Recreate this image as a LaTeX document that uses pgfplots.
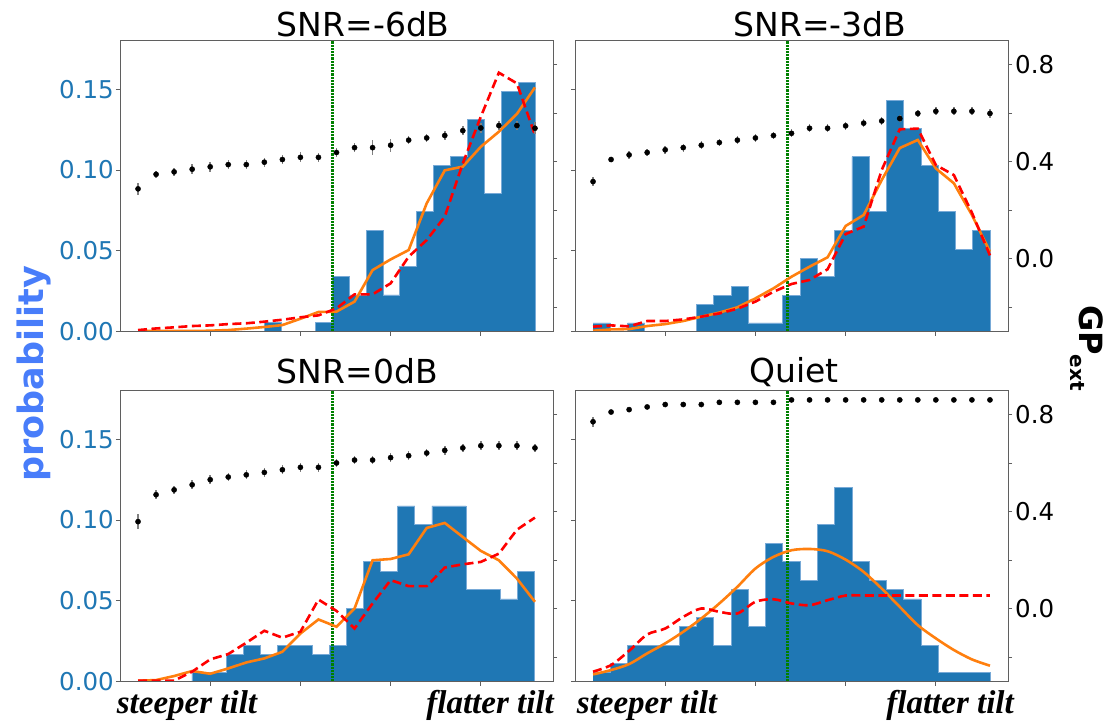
\documentclass[border=0pt]{standalone}
\usepackage{fontspec}
\setmainfont{DejaVu Sans}
\newfontfamily\tiltfont{Liberation Serif}
\usepackage{pgfplots}
\usepackage{pgfplotstable}
\pgfplotsset{compat=1.18}

\definecolor{barblue}{RGB}{31,119,180}
\definecolor{baredge}{RGB}{120,170,215}
\definecolor{lineorange}{RGB}{255,127,14}
\definecolor{refgreen}{RGB}{0,128,0}
\definecolor{problabel}{RGB}{72,125,250}
\definecolor{spine}{RGB}{95,95,95}

% x o(range) r(ed) g(p) e(rror)
\pgfplotstableread{
x o r g e
1 0.0004 0.0010 0.289 0.024
2 0.0004 0.0020 0.349 0.014
3 0.0004 0.0027 0.359 0.016
4 0.0004 0.0035 0.370 0.020
5 0.0006 0.0039 0.380 0.020
6 0.0010 0.0047 0.389 0.018
7 0.0019 0.0052 0.389 0.018
8 0.0029 0.0062 0.399 0.018
9 0.0041 0.0074 0.410 0.020
10 0.0080 0.0089 0.419 0.020
11 0.0122 0.0101 0.419 0.018
12 0.0124 0.0144 0.439 0.020
13 0.0186 0.0231 0.459 0.020
14 0.0381 0.0231 0.459 0.030
15 0.0447 0.0299 0.469 0.026
16 0.0505 0.0464 0.490 0.018
17 0.0794 0.0567 0.499 0.018
18 0.0998 0.0711 0.509 0.018
19 0.1021 0.1041 0.529 0.018
20 0.1144 0.1330 0.540 0.020
21 0.1237 0.1602 0.550 0.020
22 0.1347 0.1536 0.550 0.018
23 0.1511 0.1217 0.539 0.024
}\tlpts
\pgfplotstableread{
edge h
1.470 0
2.406 0
3.342 0
4.278 0
5.214 0
6.150 0
7.086 0
8.022 0.0056
8.958 0
9.894 0
10.830 0.0056
11.766 0.0344
12.702 0.0227
13.638 0.0629
14.574 0.0227
15.510 0.0402
16.446 0.0742
17.382 0.1027
18.318 0.1085
19.254 0.1313
20.190 0.0856
21.126 0.1487
22.062 0.1542
23.000 0
}\tlbars

\pgfplotstableread{
x o r g e
1 0.0006 0.0031 0.319 0.020
2 0.0014 0.0039 0.410 0.012
3 0.0016 0.0033 0.429 0.016
4 0.0035 0.0066 0.439 0.016
5 0.0047 0.0066 0.450 0.016
6 0.0066 0.0076 0.459 0.016
7 0.0093 0.0093 0.469 0.016
8 0.0118 0.0113 0.480 0.016
9 0.0151 0.0142 0.490 0.016
10 0.0206 0.0186 0.499 0.016
11 0.0268 0.0247 0.509 0.016
12 0.0340 0.0295 0.518 0.016
13 0.0402 0.0320 0.539 0.016
14 0.0460 0.0386 0.539 0.016
15 0.0654 0.0604 0.549 0.016
16 0.0722 0.0650 0.560 0.016
17 0.0938 0.1000 0.569 0.016
18 0.1136 0.1252 0.579 0.016
19 0.1186 0.1256 0.600 0.016
20 0.1010 0.1031 0.609 0.016
21 0.0918 0.0969 0.609 0.016
22 0.0722 0.0736 0.609 0.016
23 0.0495 0.0472 0.600 0.018
}\trpts
\pgfplotstableread{
edge h
1.000 0.0054
1.957 0
2.913 0.0054
3.870 0
4.826 0
5.783 0
6.739 0.0169
7.696 0.0225
8.652 0.0282
9.609 0.0054
10.565 0.0054
11.522 0.0225
12.478 0.0454
13.435 0.0340
14.391 0.0627
15.348 0.1083
16.304 0.0742
17.261 0.1429
18.217 0.1256
19.174 0.1027
20.130 0.0742
21.087 0.0511
22.043 0.0627
23.000 0
}\trbars

\pgfplotstableread{
x o r g e
1 0.0006 0.0006 0.360 0.032
2 0.0010 0.0006 0.471 0.018
3 0.0035 0.0006 0.491 0.018
4 0.0066 0.0062 0.512 0.018
5 0.0049 0.0138 0.533 0.018
6 0.0082 0.0171 0.544 0.018
7 0.0119 0.0241 0.553 0.018
8 0.0144 0.0315 0.563 0.018
9 0.0185 0.0272 0.574 0.018
10 0.0298 0.0309 0.584 0.018
11 0.0385 0.0508 0.584 0.018
12 0.0340 0.0438 0.602 0.018
13 0.0453 0.0329 0.614 0.018
14 0.0751 0.0484 0.614 0.018
15 0.0759 0.0628 0.624 0.018
16 0.0788 0.0591 0.632 0.018
17 0.0951 0.0591 0.643 0.018
18 0.0982 0.0706 0.654 0.018
19 0.0895 0.0726 0.664 0.018
20 0.0809 0.0741 0.673 0.018
21 0.0751 0.0792 0.673 0.018
22 0.0638 0.0940 0.673 0.018
23 0.0494 0.1015 0.664 0.018
}\blpts
\pgfplotstableread{
edge h
1.14 0
2.09 0
3.04 0
3.99 0.0056
4.94 0.0056
5.89 0.0171
6.84 0.0226
7.79 0.0171
8.74 0.0226
9.69 0.0226
10.64 0.0171
11.59 0.0226
12.54 0.0455
13.49 0.0741
14.44 0.0683
15.39 0.1087
16.34 0.0971
17.29 0.1087
18.24 0.1087
19.19 0.0570
20.14 0.0570
21.09 0.0512
22.04 0.0683
22.99 0
}\blbars

\pgfplotstableread{
x o r g e
1 0.0045 0.0062 0.772 0.020
2 0.0072 0.0103 0.812 0
3 0.0109 0.0191 0.822 0
4 0.0175 0.0292 0.833 0
5 0.0237 0.0329 0.843 0
6 0.0309 0.0401 0.843 0
7 0.0391 0.0453 0.843 0
8 0.0484 0.0432 0.852 0
9 0.0587 0.0422 0.852 0
10 0.0700 0.0494 0.852 0
11 0.0772 0.0510 0.852 0
12 0.0813 0.0484 0.862 0
13 0.0821 0.0473 0.862 0
14 0.0807 0.0504 0.862 0
15 0.0755 0.0533 0.862 0
16 0.0679 0.0533 0.862 0
17 0.0576 0.0533 0.862 0
18 0.0463 0.0533 0.862 0
19 0.0350 0.0533 0.862 0
20 0.0268 0.0533 0.862 0
21 0.0196 0.0533 0.862 0
22 0.0138 0.0533 0.862 0
23 0.0099 0.0533 0.862 0
}\brpts
\pgfplotstableread{
edge h
1.000 0.0056
1.957 0.0113
2.913 0.0226
3.870 0.0226
4.826 0.0226
5.783 0.0342
6.739 0.0399
7.696 0.0226
8.652 0.0570
9.609 0.0342
10.565 0.0854
11.522 0.0741
12.478 0.0626
13.435 0.0971
14.391 0.1200
15.348 0.0741
16.304 0.0626
17.261 0.0570
18.217 0.0512
19.174 0.0226
20.130 0.0056
21.087 0.0056
22.043 0.0056
23.000 0
}\brbars

\pgfplotsset{
  panel/.style={scale only axis, width=433pt, height=291pt, anchor=south west,
    xmin=0, xmax=24},
  probax/.style={panel, ymin=0, ymax=0.18, axis on top,
    xtick={5,10,15,20}, xticklabels={}, xtick pos=bottom,
    ytick={0,0.05,0.1,0.15}, ytick pos=left,
    tick align=outside, major tick length=4pt,
    axis line style={spine, line width=0.9pt},
    tick style={spine, line width=0.9pt},
    yticklabel style={font=\fontsize{24.5}{28}\selectfont, text=barblue, inner sep=0pt},
    yticklabel shift=2pt},
  gpax/.style={panel, ymin=-0.3, ymax=0.9, axis x line=none, axis y line*=right,
    ytick={-0.2,0,0.2,0.4,0.6,0.8},
    tick align=outside, major tick length=4pt,
    axis line style={spine, line width=0.9pt},
    tick style={spine, line width=0.9pt},
    yticklabel style={font=\fontsize{24.5}{28}\selectfont, text=black, inner sep=0pt},
    yticklabel shift=3pt},
  bars/.style={ybar interval, fill=barblue, draw=none},
  baroutline/.style={const plot, baredge, line width=0.8pt},
  orangeline/.style={lineorange, line width=2.6pt},
  redline/.style={red, line width=2.6pt, dash pattern=on 9pt off 4.5pt},
  greenline/.style={refgreen, line width=2.8pt, dash pattern=on 2.2pt off 1pt},
  gppts/.style={only marks, mark=*, mark size=2.6pt, black,
    error bars/.cd, y dir=both, y explicit, error mark=none,
    error bar style={gray, line width=1.5pt}},
}

\begin{document}
\begin{tikzpicture}[x=1pt,y=1pt]
\useasboundingbox (0,0) rectangle (1112,722);

% ---- SNR=-6dB (top left)
\begin{axis}[probax, at={(120pt,390.3pt)}, yticklabels={0.00,0.05,0.10,0.15}]
  \addplot[bars] table[x=edge,y=h] {\tlbars};
  \addplot[baroutline] table[x=edge,y=h] {\tlbars};
  \addplot[greenline] coordinates {(11.77,0) (11.77,0.18)};
  \addplot[orangeline] table[x=x,y=o] {\tlpts};
  \addplot[redline] table[x=x,y=r] {\tlpts};
\end{axis}
\begin{axis}[gpax, at={(120pt,390.3pt)}, yticklabels={}]
  \addplot[gppts] table[x=x,y=g,y error=e] {\tlpts};
\end{axis}

% ---- SNR=-3dB (top right)
\begin{axis}[probax, at={(575pt,390.3pt)}, yticklabels={}]
  \addplot[bars] table[x=edge,y=h] {\trbars};
  \addplot[baroutline] table[x=edge,y=h] {\trbars};
  \addplot[greenline] coordinates {(11.77,0) (11.77,0.18)};
  \addplot[orangeline] table[x=x,y=o] {\trpts};
  \addplot[redline] table[x=x,y=r] {\trpts};
\end{axis}
\begin{axis}[gpax, at={(575pt,390.3pt)}, yticklabels={,0.0,,0.4,,0.8}]
  \addplot[gppts] table[x=x,y=g,y error=e] {\trpts};
\end{axis}

% ---- SNR=0dB (bottom left)
\begin{axis}[probax, at={(120pt,40.3pt)}, yticklabels={0.00,0.05,0.10,0.15}]
  \addplot[bars] table[x=edge,y=h] {\blbars};
  \addplot[baroutline] table[x=edge,y=h] {\blbars};
  \addplot[greenline] coordinates {(11.77,0) (11.77,0.18)};
  \addplot[orangeline] table[x=x,y=o] {\blpts};
  \addplot[redline] table[x=x,y=r] {\blpts};
\end{axis}
\begin{axis}[gpax, at={(120pt,40.3pt)}, yticklabels={}]
  \addplot[gppts] table[x=x,y=g,y error=e] {\blpts};
\end{axis}

% ---- Quiet (bottom right)
\begin{axis}[probax, at={(575pt,40.3pt)}, yticklabels={}]
  \addplot[bars] table[x=edge,y=h] {\brbars};
  \addplot[baroutline] table[x=edge,y=h] {\brbars};
  \addplot[greenline] coordinates {(11.77,0) (11.77,0.18)};
  \addplot[orangeline, smooth] table[x=x,y=o] {\brpts};
  \addplot[redline, smooth] table[x=x,y=r] {\brpts};
\end{axis}
\begin{axis}[gpax, at={(575pt,40.3pt)}, yticklabels={,0.0,,0.4,,0.8}]
  \addplot[gppts] table[x=x,y=g,y error=e] {\brpts};
\end{axis}

% titles
\begin{scope}[every node/.style={inner sep=0pt, font=\fontsize{33}{38}\selectfont}]
  \node[anchor=base west] at (276.7,685.3) {SNR=-6dB};
  \node[anchor=base west] at (733.3,685.3) {SNR=-3dB};
  \node[anchor=base west] at (276.7,338.7) {SNR=0dB};
  \node[anchor=base west] at (749.3,339.5) {Quiet};
\end{scope}

% tilt labels
\begin{scope}[every node/.style={inner sep=0pt, font=\tiltfont\bfseries\itshape\fontsize{33}{37}\selectfont}]
  \node[anchor=base west] at (116.7,8.7) {steeper tilt};
  \node[anchor=base east] at (554,8.7) {flatter tilt};
  \node[anchor=base west] at (576.7,8.7) {steeper tilt};
  \node[anchor=base east] at (1014,8.7) {flatter tilt};
\end{scope}

% axis labels
\node[rotate=90, inner sep=0pt, text=problabel, font=\bfseries\fontsize{35}{40}\selectfont]
  at (34,348) {probability};
\node[rotate=-90, anchor=base, inner sep=0pt, font=\bfseries\fontsize{32}{36}\selectfont]
  at (1079,374) {GP\raisebox{-9pt}{\fontsize{20}{22}\selectfont\bfseries ext}};
\end{tikzpicture}
\end{document}
